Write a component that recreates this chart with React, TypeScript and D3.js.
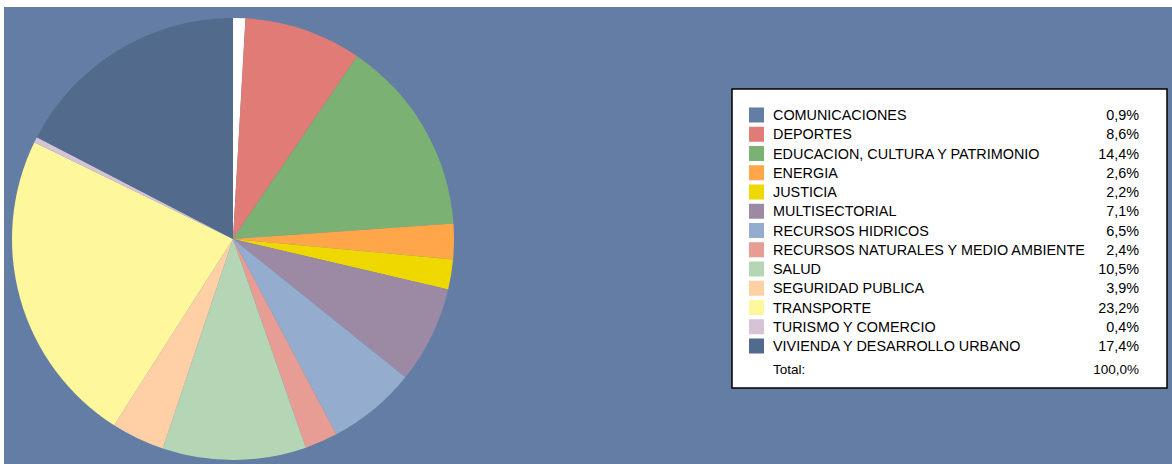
import React from "react";
import * as d3 from "d3";

const categories = [
  "COMUNICACIONES",
  "DEPORTES",
  "EDUCACION, CULTURA Y PATRIMONIO",
  "ENERGIA",
  "JUSTICIA",
  "MULTISECTORIAL",
  "RECURSOS HIDRICOS",
  "RECURSOS NATURALES Y MEDIO AMBIENTE",
  "SALUD",
  "SEGURIDAD PUBLICA",
  "TRANSPORTE",
  "TURISMO Y COMERCIO",
  "VIVIENDA Y DESARROLLO URBANO",
];
const values = [0.9, 8.6, 14.4, 2.6, 2.2, 7.1, 6.5, 2.4, 10.5, 3.9, 23.2, 0.4, 17.4];
const labels = ["0,9%", "8,6%", "14,4%", "2,6%", "2,2%", "7,1%", "6,5%", "2,4%", "10,5%", "3,9%", "23,2%", "0,4%", "17,4%"];
const totalLabel = "100,0%";
const legendColors = [
  "#637DA5", "#E07B75", "#7BB173", "#FFA54A", "#EFD700", "#9C8AA5", "#94ADCE",
  "#E79C94", "#B5D6B5", "#FFCFA5", "#FFF79C", "#D6C3D6", "#526A8C",
];
const sliceColors = ["#FFFFFF", ...legendColors.slice(1)];

export default function App() {
  const W = 1172, H = 464;
  const cx = 233, cy = 239, r = 221;
  const pie = d3.pie<number>().sort(null).value((d) => d)(values);
  const arc = d3.arc<d3.PieArcDatum<number>>().innerRadius(0).outerRadius(r);

  const lx = 732, ly = 89, lw = 435, lh = 299;
  const rowY = d3.scaleLinear().domain([0, 1]).range([115, 134.25]);

  return (
    <div style={{ position: "absolute", left: 0, top: 0 }}>
      <svg width={W} height={H} style={{ display: "block" }} fontFamily="'Liberation Sans', Arial, sans-serif">
        <rect x={0} y={0} width={W} height={H} fill="#fff" />
        <rect x={4} y={7} width={W - 4} height={H - 7} fill="#637DA5" />
        <g transform={`translate(${cx},${cy})`}>
          {pie.map((p, i) => (
            <path key={i} d={arc(p) || ""} fill={sliceColors[i]} />
          ))}
        </g>
        <rect x={lx} y={ly} width={lw} height={lh} fill="#fff" stroke="#000" strokeWidth={1.5} />
        {categories.map((c, i) => {
          const y = rowY(i);
          return (
            <g key={c}>
              <rect x={749} y={y - 7.5} width={15} height={15} fill={legendColors[i]} />
              <text x={773} y={y} dy="0.35em" fontSize={14.4} fill="#000">{c}</text>
              <text x={1139} y={y} dy="0.35em" fontSize={14.4} fill="#000" textAnchor="end">{labels[i]}</text>
            </g>
          );
        })}
        <text x={773} y={369} dy="0.35em" fontSize={13.5} fill="#000">Total:</text>
        <text x={1139} y={369} dy="0.35em" fontSize={13.5} fill="#000" textAnchor="end">{totalLabel}</text>
      </svg>
    </div>
  );
}
